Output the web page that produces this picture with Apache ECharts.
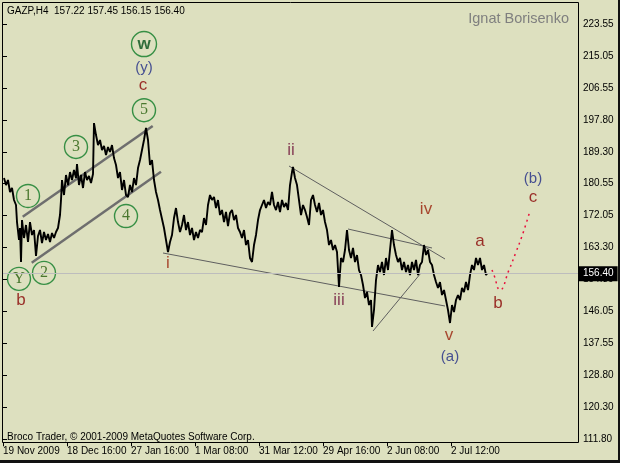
<!DOCTYPE html>
<html><head><meta charset="utf-8">
<script src="https://cdn.jsdelivr.net/npm/echarts@6/dist/echarts.min.js"></script>
<style>html,body{margin:0;padding:0;background:#dde0bf}#c{width:620px;height:463px}</style>
</head><body><div id="c"></div>
<script>
// ---- data (bar index on a H4 timeline, price in RUB) ----
const barIndex = [1,3,5,7,9,11,13,14,16,17,18,19,21,23,25,27,29,31,33,35,37,39,41,43,45,47,49,51,53,55,57,58,59,61,63,65,67,69,71,73,74,76,78,80,82,84,86,88,90,91,93,95,97,99,101,103,105,107,109,111,113,115,117,119,121,123,125,127,129,131,133,135,137,139,141,143,145,147,149,151,153,155,157,159,161,163,165,167,169,171,173,175,177,179,181,183,185,187,189,191,193,195,197,199,201,203,205,207,209,211,213,215,217,219,221,223,225,227,229,231,233,235,237,239,241,243,245,247,249,251,253,255,257,259,261,263,265,267,269,271,273,275,277,279,281,283,285,287,289,290,292,294,296,298,300,302,304,306,308,310,312,314,316,318,320,322,324,326,328,330,332,334,336,338,340,342,344,346,348,350,352,354,356,358,360,362,364,366,368,369,371,373,375,377,379,381,383,385,387,389,391,393,395,397,399,401,403,405,407,409,411,413,415,417,419,421,423,425,427,429,431,433,435,437,439,441,443,445,447,449,451,453,455,457,459,461,463,465,467,469,471,473,475,477,479,481,483,484];
const prices = [182.14,180.25,181.60,178.37,179.45,176.22,174.87,170.29,165.45,168.68,159.53,170.83,165.99,169.49,164.91,170.29,166.80,168.14,161.14,166.53,168.14,164.64,167.60,165.45,167.06,164.91,167.33,165.99,167.60,168.68,172.18,176.22,181.60,177.56,182.95,180.25,183.75,181.60,184.29,182.14,185.91,180.25,182.95,179.45,183.75,181.60,182.68,180.79,183.21,196.94,193.71,191.02,192.37,189.67,190.75,188.33,190.48,189.14,191.02,187.52,185.64,182.14,183.75,178.91,181.60,177.56,177.02,180.25,178.37,182.14,180.25,184.83,186.98,189.67,192.37,195.60,192.37,185.64,186.98,181.60,178.37,176.22,173.52,172.99,168.68,165.45,162.22,164.91,166.80,171.37,174.06,170.29,167.60,169.49,172.18,168.14,170.29,166.80,168.68,165.45,167.60,165.99,168.14,167.60,171.37,169.49,174.87,177.56,176.22,177.02,174.06,176.22,172.18,173.52,170.29,172.99,169.22,172.72,173.52,170.83,172.18,168.68,167.60,165.99,168.14,164.10,165.45,160.60,159.53,164.10,166.80,170.83,173.52,174.87,176.22,174.06,175.68,174.87,178.37,174.87,173.52,175.68,172.99,176.22,174.33,175.41,173.52,180.25,183.75,185.10,182.14,180.25,176.22,172.18,174.87,173.52,171.64,169.49,176.22,177.56,174.87,172.99,175.41,172.18,173.52,170.29,168.14,164.10,165.45,162.76,164.10,162.22,152.80,160.60,159.53,162.76,168.14,162.76,160.60,163.30,159.53,161.41,157.37,156.03,153.34,149.84,151.45,147.95,149.30,142.03,146.61,154.68,158.72,156.84,159.53,156.03,160.60,157.37,162.76,168.14,164.10,161.41,159.53,160.60,157.37,159.53,156.84,158.72,156.03,159.53,157.37,160.07,156.03,158.72,159.53,164.10,161.41,162.76,159.53,158.72,156.03,154.14,152.53,154.14,150.64,151.99,149.30,146.61,143.11,147.95,146.07,149.30,150.64,149.30,152.53,151.45,154.14,151.99,156.03,158.72,157.37,160.60,158.72,160.60,157.37,158.72,156.03,156.40];
const lastPrice = 156.40;
const headerText = 'GAZP,H4  157.22 157.45 156.15 156.40';
// forecast path (red dotted)
const projIdx = [489,491,497,506,513,520,527];
const projPrice = [157.4,156.0,152.0,157.4,162.2,167.3,173.3];
// tick labels
const yTickLabels = ['111.80','120.30','128.80','137.55','146.05','154.80','163.30','172.05','180.55','189.30','197.80','206.55','215.05','223.55'];
const dateLabels = ['19 Nov 2009','18 Dec 16:00','27 Jan 16:00','1 Mar 08:00','31 Mar 12:00','29 Apr 16:00','2 Jun 08:00','2 Jul 12:00'];
// drawn trend lines: [[idx1, price1],[idx2, price2]]
const channelLines = [[[19.7,171.72],[149.7,196.13]], [[28.7,159.34],[158,183.83]]];
const trendLines = [[[160,161.95],[442,147.68]], [[286,185.37],[442,160.34]], [[345,168.41],[429,163.30]], [[370,140.95],[418,156.57]]];
// wave count marks
const circleText = ['w','5','3','1','4','2','Y'];
const circleIdx = [141,141,73,25,123,41,16];
const circlePrice = [218.2,200.4,190.5,177.3,171.9,156.6,155.0];
const waveText = ['(y)','c','b','i','ii','iii','iv','v','(a)','a','b','(b)','c'];
const waveIdx = [141,140,18,165,288,336,423,446,447,477,495,530,530];
const wavePrice = [211.9,207.2,149.3,159.3,189.7,149.3,173.6,139.9,133.9,165.2,148.5,181.9,177.0];

// ---- chart ----
const chart = echarts.init(document.getElementById('c'), null, {renderer: 'canvas'});
const BG = '#dde0bf';
const FONT = 'Liberation Sans, Arial, sans-serif';
const step = 8.6;
function waveColor(t){
  if (t.indexOf('(') === 0) return '#1f2a86';
  if (t === 'ii' || t === 'iii') return '#6e1238';
  if (t === 'iv' || t === 'v' || t === 'i') return '#981e08';
  return '#880000';
}
const series = [];
series.push({
  type: 'line', data: [], z: 1, silent: true,
  markLine: {
    silent: true, symbol: 'none', animation: false,
    lineStyle: {color: '#bdbdbd', width: 1, type: 'solid'},
    label: {show: true, position: 'end', formatter: lastPrice.toFixed(2), color: '#ffffff',
      backgroundColor: '#000000', padding: [3, 4, 2, 4], distance: 1, fontSize: 10, fontFamily: FONT},
    data: [{yAxis: lastPrice}]
  }
});
channelLines.forEach(l => series.push({type: 'line', data: l, symbol: 'none', z: 2, silent: true,
  lineStyle: {color: '#6e6e6e', width: 2.5}}));
trendLines.forEach(l => series.push({type: 'line', data: l, symbol: 'none', z: 2, silent: true,
  lineStyle: {color: '#5f5f5f', width: 1}}));
series.push({type: 'line', data: barIndex.map((x, i) => [x, prices[i]]), symbol: 'none', z: 3,
  lineStyle: {color: '#000000', width: 1.9}});
series.push({type: 'line', smooth: 0.5, data: projIdx.map((x, i) => [x, projPrice[i]]), symbol: 'none', z: 3,
  lineStyle: {color: '#e8103c', width: 1.5, type: [2, 4]}});
series.push({type: 'scatter', z: 4, silent: true,
  data: circleText.map((t, i) => ({value: [circleIdx[i], circlePrice[i]], name: t,
    symbolSize: t === 'w' ? 25 : 23,
    label: t === 'w' ? {fontFamily: FONT, fontWeight: 'bold', fontSize: 17, color: '#05501a'} : {}})),
  symbol: 'circle',
  itemStyle: {color: 'rgba(0,0,0,0)', borderColor: '#0c7a26', borderWidth: 1.4},
  label: {show: true, position: 'inside', formatter: p => p.name, color: '#245c0a',
    fontFamily: 'Liberation Serif, Times New Roman, serif', fontSize: 16}
});
series.push({type: 'scatter', z: 4, silent: true, symbolSize: 1,
  itemStyle: {color: 'rgba(0,0,0,0)'},
  data: waveText.map((t, i) => ({value: [waveIdx[i], wavePrice[i]], name: t,
    label: {color: waveColor(t), fontSize: t.indexOf('(') === 0 ? 15 : 17}})),
  label: {show: true, position: 'inside', formatter: p => p.name, fontFamily: FONT}
});

chart.setOption({
  animation: false,
  backgroundColor: BG,
  grid: {left: 3, right: 42, top: 24, bottom: 23.7, containLabel: false},
  xAxis: {
    type: 'value', min: 0, max: 575, interval: 64, offset: 3,
    axisLine: {show: false}, splitLine: {show: false},
    axisTick: {show: true, length: 4, lineStyle: {color: '#000'}, customValues: dateLabels.map((_, k) => k * 64)},
    axisLabel: {customValues: dateLabels.map((_, k) => k * 64), align: 'left', margin: 4,
      color: '#000', fontSize: 10, fontFamily: FONT,
      formatter: v => dateLabels[Math.round(v / 64)] || ''}
  },
  yAxis: {
    type: 'value', position: 'right', min: 13 * step, max: 26 * step, interval: step,
    axisLine: {show: false}, splitLine: {show: false},
    axisTick: {show: true, length: 4, lineStyle: {color: '#000'}},
    axisLabel: {margin: 5, color: '#000', fontSize: 10, fontFamily: FONT,
      formatter: v => yTickLabels[Math.round((v - 13 * step) / step)] || ''}
  },
  series: series,
  graphic: [
    {type: 'polyline', silent: true, z: 10, shape: {points: [[2.5, 442.5], [2.5, 2.5], [578.5, 2.5], [578.5, 442.5], [2.5, 442.5]]},
      style: {stroke: '#000', lineWidth: 1, fill: null}},
    {type: 'rect', silent: true, z: 10, shape: {x: 618, y: 0, width: 2, height: 463}, style: {fill: '#111'}},
    {type: 'rect', silent: true, z: 10, shape: {x: 0, y: 460, width: 620, height: 3}, style: {fill: '#111'}},
    {type: 'text', silent: true, z: 10, x: 7, y: 11, style: {text: headerText, fill: '#000', font: '10px ' + FONT, textVerticalAlign: 'middle'}},
    {type: 'text', silent: true, z: 10, x: 569, y: 19, style: {text: 'Ignat Borisenko', fill: '#7f7f7f', font: '14.5px ' + FONT, textAlign: 'right', textVerticalAlign: 'middle'}},
    {type: 'text', silent: true, z: 10, x: 7, y: 437, style: {text: 'Broco Trader, \u00a9 2001-2009 MetaQuotes Software Corp.', fill: '#000', font: '10px ' + FONT, textVerticalAlign: 'middle'}}
  ]
});
</script></body></html>
